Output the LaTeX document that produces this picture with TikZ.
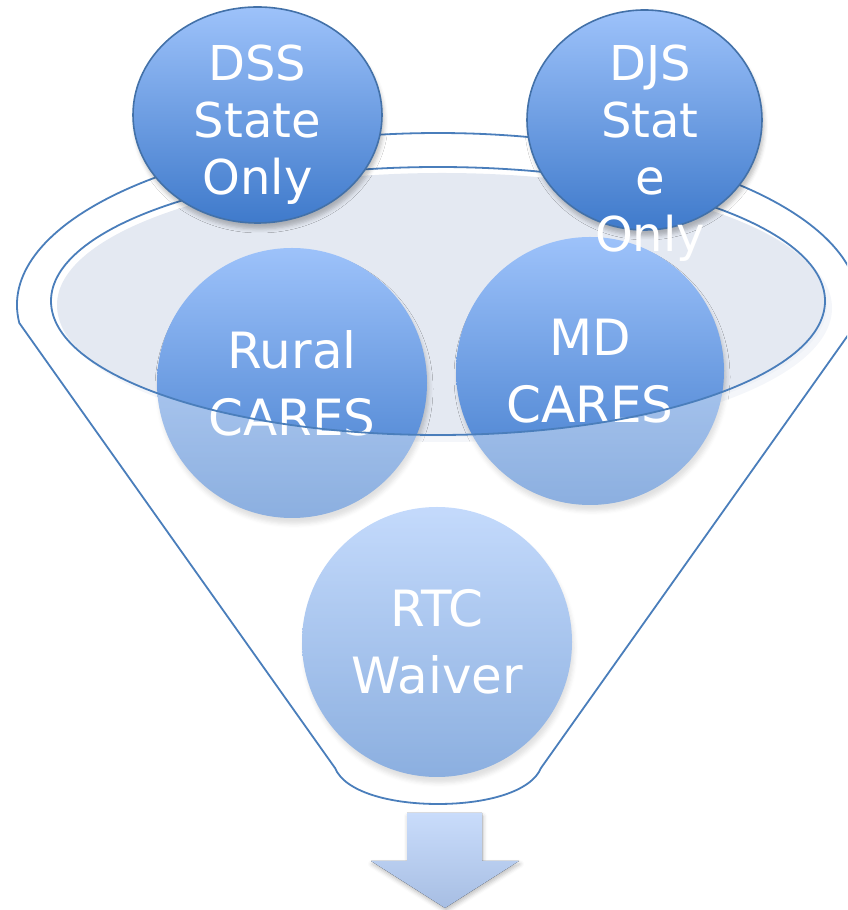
\documentclass[tikz,border=0pt]{standalone}
\usepackage{fontspec}
\setmainfont{DejaVu Sans}
\usetikzlibrary{shapes.geometric,shadows.blur}

\definecolor{rimblue}{HTML}{4A7EBB}
\definecolor{bubtop}{HTML}{9DC2FA}
\definecolor{bubbottom}{HTML}{3F7ACB}
\definecolor{bowlfill}{HTML}{E4E9F2}
\definecolor{bowlhalo}{HTML}{EEF1F7}
\definecolor{arrowtop}{HTML}{C9DCFB}
\definecolor{arrowbottom}{HTML}{A7BEE3}

% outline of the funnel body
\newcommand\funnelpath{(335,142) -- (19.3,587)
  arc[start angle=186, end angle=-6, x radius=421, y radius=172]
  -- (541,142) .. controls (531,118) and (486,106) .. (438,106)
  .. controls (390,106) and (345,118) .. (335,142) -- cycle}

\begin{document}
\begin{tikzpicture}[x=1pt, y=1pt,
    bubble/.style ={circle, minimum size=270pt, inner sep=0pt,
      top color=bubtop, bottom color=bubbottom, text=white, align=center,
      font=\fontsize{50}{67}\selectfont,
      blur shadow={shadow xshift=2pt, shadow yshift=-6pt, shadow blur radius=4pt, shadow opacity=20}},
    topbubble/.style ={ellipse, draw=rimblue!90!black, line width=1.6pt, inner sep=0pt,
      top color=bubtop, bottom color=bubbottom,
      blur shadow={shadow xshift=2pt, shadow yshift=-6pt, shadow blur radius=4pt, shadow opacity=25}},
    bubtext/.style ={text=white, align=center, inner sep=0pt,
      font=\fontsize{48}{57}\selectfont},
    rim/.style ={draw=rimblue, line width=1.8pt}]
   \useasboundingbox (0,0) rectangle (847,910);
   \clip (0,0) rectangle (847,910);

   % bowl of the funnel
   \fill[bowlhalo] (445,602) ellipse[x radius=387, y radius=134];
   \fill[bowlfill] (442,605) ellipse[x radius=385, y radius=132];

   \node[bubble] (rural) at (292,527) {Rural\\CARES};
   \node[bubble, minimum size=268pt] (md) at (590,539) {MD\\CARES};
   \node[bubble] (rtc) at (437,268) {RTC\\Waiver};

   % body washes out what lies below the bowl
   \fill[white, fill opacity=0.4, even odd rule] \funnelpath
     (438,609) ellipse[x radius=387, y radius=134];
   \draw[rim] \funnelpath;
   \draw[rim] (438,609) ellipse[x radius=387, y radius=134];

   \node[topbubble, minimum width=249pt, minimum height=216pt] (dss) at (257.5,795) {};
   \node[topbubble, minimum width=235pt, minimum height=220pt] (djs) at (644.5,790) {};
   \node[bubtext] (dss-text) at ([yshift=-9.5pt]dss.center) {DSS\\State\\Only};
   \node[bubtext] (djs-text) at ([xshift=5.5pt, yshift=-33pt]djs.center) {DJS\\Stat\\e\\Only};

   % outlet arrow
   \fill[top color=arrowtop, bottom color=arrowbottom,
     blur shadow={shadow xshift=1pt, shadow yshift=-3pt, shadow blur radius=4pt, shadow opacity=25}]
     (407,97) -- (482,97) -- (482,49) -- (519,49) -- (445,2) -- (371,49) -- (407,49) -- cycle;
\end{tikzpicture}
\end{document}
